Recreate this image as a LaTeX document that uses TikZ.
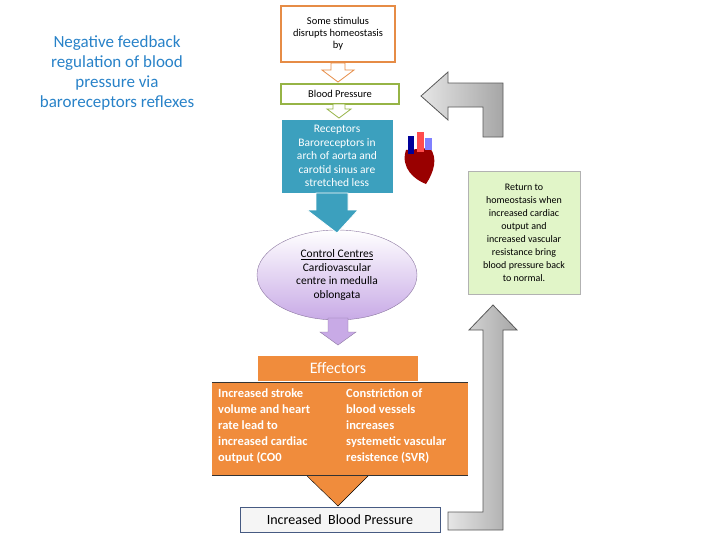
\documentclass[tikz,border=0pt]{standalone}
\usepackage{fontspec}
\setmainfont{Carlito}
\usetikzlibrary{shapes.geometric}
\definecolor{titleblue}{RGB}{40,130,200}
\definecolor{stimorange}{RGB}{230,140,70}
\definecolor{bpgreen}{RGB}{150,180,70}
\definecolor{recteal}{RGB}{60,160,190}
\definecolor{ctrlpurple}{RGB}{200,170,230}
\definecolor{efforange}{RGB}{240,140,60}
\definecolor{retgreen}{RGB}{225,245,200}
\definecolor{ibpblue}{RGB}{70,90,130}
\begin{document}
\begin{tikzpicture}
         [x=1pt,y=-1pt,every node/.style={align=center,inner sep=1pt},
          box/.style={draw,very thick,fill=white,font=\fontsize{10.5}{12}\selectfont},
          hollow/.style={draw,thick,fill=white},
          grey arrow/.style={draw=gray!70!black,thick,left color=gray!20,right color=gray!70}]
         \useasboundingbox (0,0) rectangle (720,539);
         \node[text=titleblue,font=\fontsize{17}{20}\selectfont] (title) at (117,73)
            {Negative feedback\\regulation of blood\\pressure via\\baroreceptors reflexes};
         % main chain
         \node[box,draw=stimorange,minimum width=114,minimum height=56] (stim) at (338,34)
            {Some stimulus\\disrupts homeostasis\\by};
         \node[box,draw=bpgreen,minimum width=118,minimum height=20] (bp) at (340,94) {Blood Pressure};
         \node[fill=recteal,text=white,minimum width=111,minimum height=73,font=\fontsize{11.5}{13.5}\selectfont] (rec) at (337,156)
            {Receptors\\Baroreceptors in\\arch of aorta and\\carotid sinus are\\stretched less};
         \node[ellipse,draw=ctrlpurple!70!black,top color=white,bottom color=ctrlpurple,
               minimum width=160,minimum height=90,inner sep=0pt,font=\fontsize{11.5}{13.5}\selectfont] (ctrl) at (337,275)
            {\underline{Control Centres}\\Cardiovascular\\centre in medulla\\oblongata};
         \node[fill=efforange,text=white,minimum width=160,minimum height=25,font=\fontsize{16}{18}\selectfont] (eff) at (338,368) {Effectors};
         \draw[fill=efforange] (305,474) -- (370,474) -- (338,506) -- cycle;
         \node[fill=efforange,minimum width=256,minimum height=92] (effbox) at (340,429) {};
         \draw[very thick,black!80] (effbox.north west) -- (effbox.north east)
                                    (effbox.south west) -- (effbox.south east);
         \node[text=white,align=left,anchor=north west,font=\bfseries\fontsize{12.5}{16}\selectfont] (co) at (217,388)
            {Increased stroke\\volume and heart\\rate lead to\\increased cardiac\\output (CO0};
         \node[text=white,align=left,anchor=north west,font=\bfseries\fontsize{12.5}{16}\selectfont] (svr) at (345,388)
            {Constriction of\\blood vessels\\increases\\systemetic vascular\\resistence (SVR)};
         \node[draw=ibpblue,thick,fill=gray!8,minimum width=200,minimum height=25,font=\fontsize{14}{16}\selectfont] (ibp) at (340,520)
            {Increased\ \ Blood Pressure};
         \node[draw=gray!60,fill=retgreen,minimum width=112,minimum height=123,font=\fontsize{10}{13}\selectfont] (ret) at (524,233)
            {Return to\\homeostasis when\\increased cardiac\\output and\\increased vascular\\resistance bring\\blood pressure back\\to normal.};
         % small arrows between the boxes
         \draw[hollow,draw=stimorange] (331,63) -- (345,63) -- (345,70) -- (354,70) -- (338,82) -- (322,70) -- (331,70) -- cycle;
         \draw[hollow,draw=bpgreen] (333,104) -- (345,104) -- (345,109) -- (351,109) -- (339,118) -- (327,109) -- (333,109) -- cycle;
         \draw[fill=recteal,draw=white,thick] (316,193) -- (348,193) -- (348,210) -- (358,210) -- (337,233) -- (307,210) -- (316,210) -- cycle;
         \draw[draw=ctrlpurple!70!black,fill=ctrlpurple] (328,318) -- (348,318) -- (348,332) -- (356,332) -- (338,345) -- (320,332) -- (328,332) -- cycle;
         % feedback arrows
         \draw[grey arrow] (448,530) -- (503,530) -- (503,330) -- (517,330) -- (493,305) -- (469,330) -- (483,330) -- (483,512) -- (448,512) -- cycle;
         \draw[grey arrow] (483,137) -- (503,137) -- (503,83) -- (448,83) -- (448,72) -- (421,96) -- (448,120) -- (448,107) -- (483,107) -- cycle;
         % heart
         \begin{scope}[shift={(420,158)}]
            \fill[red!60!black] (-14,-8) .. controls (-20,10) and (-5,22) .. (6,26) .. controls (14,14) and (18,0) .. (10,-10) -- cycle;
            \fill[blue!60!black] (-12,-22) rectangle (-6,-4);
            \fill[red!70] (-3,-26) rectangle (4,-6);
            \fill[blue!50] (5,-20) rectangle (12,-8);
         \end{scope}
       \end{tikzpicture}
\end{document}
